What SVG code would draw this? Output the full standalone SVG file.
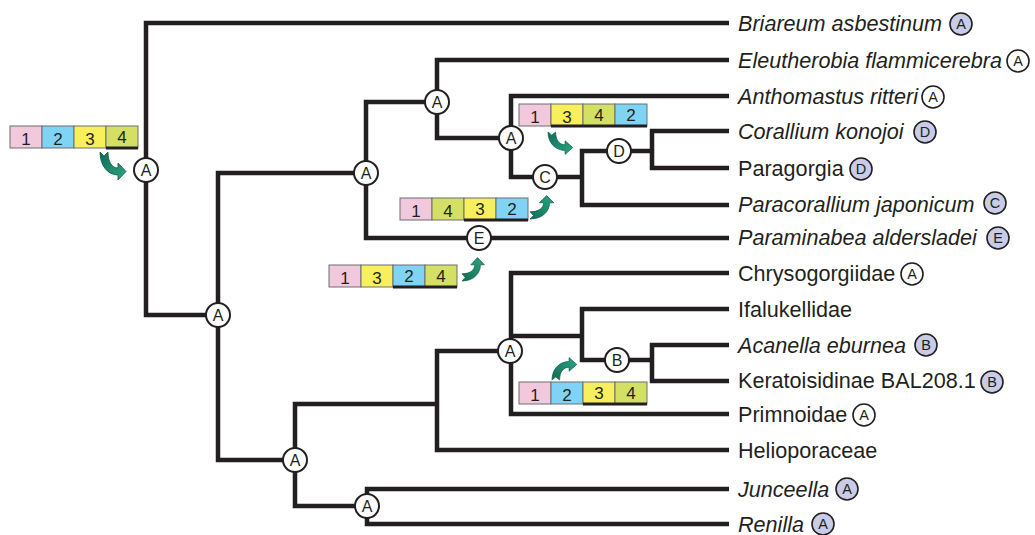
<svg xmlns="http://www.w3.org/2000/svg" xmlns:xlink="http://www.w3.org/1999/xlink" width="1035" height="535" viewBox="0 0 1035 535">
<style>
.br{fill:none;stroke:#231f20;stroke-width:4.5;stroke-linejoin:miter;stroke-linecap:butt}
.nc{fill:#fff;stroke:#231f20;stroke-width:2}
.nt{font-family:"Liberation Sans",Arial,sans-serif;font-size:16px;fill:#231f20;text-anchor:middle}
.lab{font-family:"Liberation Sans",Arial,sans-serif;font-size:21.6px;fill:#231f20}
.it{font-style:italic}
.lc{fill:#c8cce6;stroke:#231f20;stroke-width:1.6}
.lw{fill:#fff;stroke:#231f20;stroke-width:1.6}
.lt{font-family:"Liberation Sans",Arial,sans-serif;font-size:14.5px;fill:#231f20;text-anchor:middle}
.c{stroke:#6d6e70;stroke-width:1}
.p{fill:#f2c8dc}.b{fill:#7fd3f4}.y{fill:#f7ef5c}.o{fill:#d4e064}
.thick{stroke:#231f20;stroke-width:3}
.gn{font-family:"Liberation Sans",Arial,sans-serif;font-size:17px;fill:#231f20;text-anchor:middle}
.ar{fill:url(#ag);stroke:#0d5a47;stroke-width:0.8}
</style>
<defs>
<linearGradient id="ag" x1="0" y1="0" x2="1" y2="1">
<stop offset="0" stop-color="#0f6b55"/>
<stop offset="1" stop-color="#2aa886"/>
</linearGradient>
<path id="arr" class="ar" d="M0,0 L4,4 L8,0 C8,10 12,16 18,16 L18,11 L26,19.5 L18,28 L18,23 C8,23 0,14 0,0 Z"/>
</defs>

<g id="connectors">
<path class="br" d="M729,23 H146 V315 H218"/>
<path class="br" d="M366,173 H218 V460 H295"/>
<path class="br" d="M437,102 H366 V238 H729"/>
<path class="br" d="M729,60 H437 V138 H511"/>
<path class="br" d="M729,96 H511 V177 H582"/>
<path class="br" d="M652,151 H582 V205 H729"/>
<path class="br" d="M729,131 H652 V168 H729"/>
<path class="br" d="M437,404 H295 V506 H367"/>
<path class="br" d="M511,351 H437 V450 H729"/>
<path class="br" d="M729,273 H511 V414 H729"/>
<path class="br" d="M511,336 H582"/>
<path class="br" d="M729,309 H582 V360 H652"/>
<path class="br" d="M729,345 H652 V381 H729"/>
<path class="br" d="M729,489 H367 V524 H729"/>
</g>

<g id="internal-nodes">
<g id="n-root"><circle class="nc" cx="146" cy="170" r="12"/><text class="nt" x="146" y="176">A</text></g>
<g id="n-218"><circle class="nc" cx="218" cy="315" r="12"/><text class="nt" x="218" y="321">A</text></g>
<g id="n-366"><circle class="nc" cx="366" cy="173" r="12"/><text class="nt" x="366" y="179">A</text></g>
<g id="n-437"><circle class="nc" cx="437" cy="102" r="12"/><text class="nt" x="437" y="108">A</text></g>
<g id="n-511"><circle class="nc" cx="511" cy="138" r="12"/><text class="nt" x="511" y="144">A</text></g>
<g id="n-C"><circle class="nc" cx="545" cy="177" r="12"/><text class="nt" x="545" y="183">C</text></g>
<g id="n-D"><circle class="nc" cx="619" cy="151" r="12"/><text class="nt" x="619" y="157">D</text></g>
<g id="n-E"><circle class="nc" cx="479" cy="238" r="12"/><text class="nt" x="479" y="244">E</text></g>
<g id="n-295"><circle class="nc" cx="295" cy="460" r="12"/><text class="nt" x="295" y="466">A</text></g>
<g id="n-510"><circle class="nc" cx="510" cy="351" r="12"/><text class="nt" x="510" y="357">A</text></g>
<g id="n-B"><circle class="nc" cx="617" cy="360" r="12"/><text class="nt" x="617" y="366">B</text></g>
<g id="n-367"><circle class="nc" cx="367" cy="506" r="12"/><text class="nt" x="367" y="512">A</text></g>
</g>

<g id="leaves">
<g id="l-briareum"><text class="lab it" x="738" y="31">Briareum asbestinum</text><circle class="lc" cx="961" cy="24" r="11"/><text class="lt" x="961" y="29">A</text></g>
<g id="l-eleutherobia"><text class="lab it" x="738" y="68">Eleutherobia flammicerebra</text><circle class="lw" cx="1018" cy="61" r="11"/><text class="lt" x="1018" y="66">A</text></g>
<g id="l-anthomastus"><text class="lab it" x="738" y="104">Anthomastus ritteri</text><circle class="lw" cx="933" cy="97" r="11"/><text class="lt" x="933" y="102">A</text></g>
<g id="l-corallium"><text class="lab it" x="738" y="139">Corallium konojoi</text><circle class="lc" cx="925" cy="132" r="11"/><text class="lt" x="925" y="137">D</text></g>
<g id="l-paragorgia"><text class="lab" x="738" y="176">Paragorgia</text><circle class="lc" cx="861" cy="169" r="11"/><text class="lt" x="861" y="174">D</text></g>
<g id="l-paracorallium"><text class="lab it" x="738" y="212">Paracorallium japonicum</text><circle class="lc" cx="995" cy="203" r="11"/><text class="lt" x="995" y="208">C</text></g>
<g id="l-paraminabea"><text class="lab it" x="738" y="245">Paraminabea aldersladei</text><circle class="lc" cx="998" cy="238" r="11"/><text class="lt" x="998" y="243">E</text></g>
<g id="l-chrysogorgiidae"><text class="lab" x="738" y="281">Chrysogorgiidae</text><circle class="lw" cx="912" cy="274" r="11"/><text class="lt" x="912" y="279">A</text></g>
<g id="l-ifalukellidae"><text class="lab" x="738" y="317">Ifalukellidae</text></g>
<g id="l-acanella"><text class="lab it" x="738" y="353">Acanella eburnea</text><circle class="lc" cx="926" cy="345" r="11"/><text class="lt" x="926" y="350">B</text></g>
<g id="l-keratoisidinae"><text class="lab" x="738" y="388">Keratoisidinae BAL208.1</text><circle class="lc" cx="992" cy="382" r="11"/><text class="lt" x="992" y="387">B</text></g>
<g id="l-primnoidae"><text class="lab" x="738" y="422">Primnoidae</text><circle class="lw" cx="864" cy="415" r="11"/><text class="lt" x="864" y="420">A</text></g>
<g id="l-helioporaceae"><text class="lab" x="738" y="458">Helioporaceae</text></g>
<g id="l-junceella"><text class="lab it" x="738" y="497">Junceella</text><circle class="lc" cx="847" cy="489" r="11"/><text class="lt" x="847" y="494">A</text></g>
<g id="l-renilla"><text class="lab it" x="738" y="532">Renilla</text><circle class="lc" cx="823" cy="524" r="11"/><text class="lt" x="823" y="529">A</text></g>
</g>

<g id="gene-order-1234-root" transform="translate(10,126)">
<rect class="c p" x="0" y="0" width="32" height="22"/><rect class="c b" x="32" y="0" width="32" height="22"/><rect class="c y" x="64" y="0" width="32" height="22"/><rect class="c o" x="96" y="0" width="32" height="22"/>
<line class="thick" x1="96" y1="22" x2="128" y2="22"/>
<text class="gn" x="16" y="18.5">1</text><text class="gn" x="48" y="18.5">2</text><text class="gn" x="80" y="18.5">3</text><text class="gn" x="112" y="17">4</text>
</g>
<g id="gene-order-1342" transform="translate(519,104)">
<rect class="c p" x="0" y="0" width="32" height="22"/><rect class="c y" x="32" y="0" width="32" height="22"/><rect class="c o" x="64" y="0" width="32" height="22"/><rect class="c b" x="96" y="0" width="32" height="22"/>
<line class="thick" x1="32" y1="22" x2="128" y2="22"/>
<text class="gn" x="16" y="18.5">1</text><text class="gn" x="48" y="18.5">3</text><text class="gn" x="80" y="17">4</text><text class="gn" x="112" y="17">2</text>
</g>
<g id="gene-order-1432" transform="translate(400,198)">
<rect class="c p" x="0" y="0" width="32" height="22"/><rect class="c o" x="32" y="0" width="32" height="22"/><rect class="c y" x="64" y="0" width="32" height="22"/><rect class="c b" x="96" y="0" width="32" height="22"/>
<line class="thick" x1="64" y1="22" x2="128" y2="22"/>
<text class="gn" x="16" y="18.5">1</text><text class="gn" x="48" y="18.5">4</text><text class="gn" x="80" y="17">3</text><text class="gn" x="112" y="17">2</text>
</g>
<g id="gene-order-1324" transform="translate(329,265)">
<rect class="c p" x="0" y="0" width="32" height="22"/><rect class="c y" x="32" y="0" width="32" height="22"/><rect class="c b" x="64" y="0" width="32" height="22"/><rect class="c o" x="96" y="0" width="32" height="22"/>
<line class="thick" x1="64" y1="22" x2="128" y2="22"/>
<text class="gn" x="16" y="18.5">1</text><text class="gn" x="48" y="18.5">3</text><text class="gn" x="80" y="17">2</text><text class="gn" x="112" y="17">4</text>
</g>
<g id="gene-order-1234-B" transform="translate(519,382)">
<rect class="c p" x="0" y="0" width="32" height="22"/><rect class="c b" x="32" y="0" width="32" height="22"/><rect class="c y" x="64" y="0" width="32" height="22"/><rect class="c o" x="96" y="0" width="32" height="22"/>
<line class="thick" x1="64" y1="22" x2="128" y2="22"/>
<text class="gn" x="16" y="18.5">1</text><text class="gn" x="48" y="18.5">2</text><text class="gn" x="80" y="17">3</text><text class="gn" x="112" y="17">4</text>
</g>

<g id="arrows">
<use xlink:href="#arr" transform="translate(100,152)"/>
<use xlink:href="#arr" transform="translate(548,132) scale(0.95,0.8)"/>
<use xlink:href="#arr" transform="translate(530,219) rotate(-90) scale(0.9,0.85)"/>
<use xlink:href="#arr" transform="translate(462,281) rotate(-90) scale(0.9,0.8)"/>
<use xlink:href="#arr" transform="translate(552,380) scale(0.95,-0.8)"/>
</g>
</svg>
